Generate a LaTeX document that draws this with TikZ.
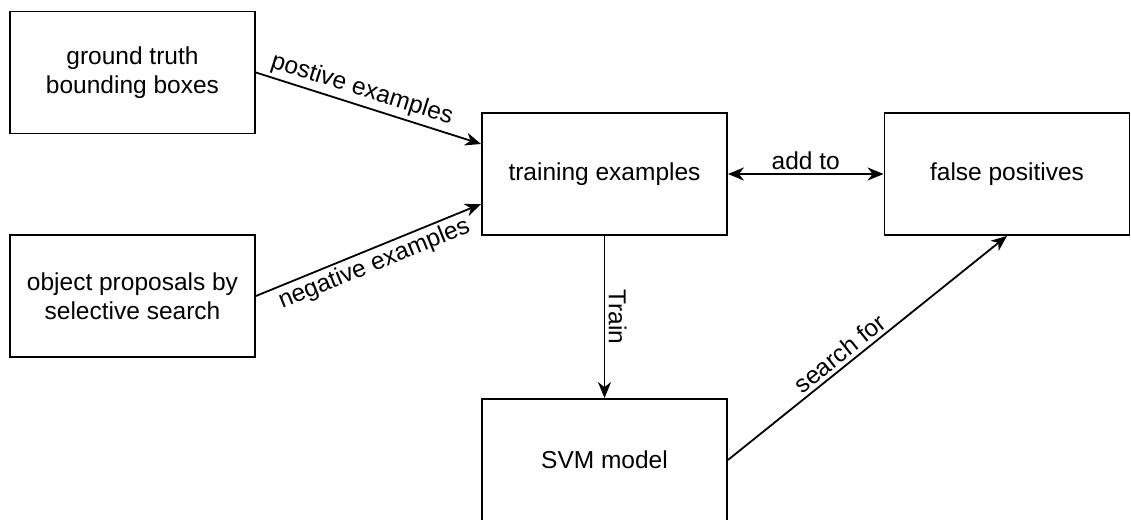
\documentclass[tikz,border=0pt]{standalone}
\usepackage{fontspec}
\setmainfont{Liberation Sans}
\usepackage{tikz}
\usetikzlibrary{arrows.meta,positioning}
\tikzstyle{line} = [draw, line width=1.8pt, -{Stealth[length=16pt,width=13pt,inset=5pt]}]
\tikzstyle{dline} = [draw, line width=1.8pt, {Stealth[length=16pt,width=13pt,inset=5pt]}-{Stealth[length=16pt,width=13pt,inset=5pt]}]
\tikzstyle{block} = [draw, line width=1.8pt, rectangle, minimum width=245pt, minimum height=122pt, align=center]
\tikzset{
    every node/.style={font=\fontsize{24.5}{29}\selectfont}
}

\begin{document}
\begin{tikzpicture}[x=1pt,y=-1pt]
            \useasboundingbox (0,0) rectangle (1131,519);

            % Draw the boxes
            \node[block] (gt) at (132.5,72.5) {ground truth\\bounding boxes};
            \node[block] (op) at (132.5,296) {object proposals by\\selective search};
            \node[block] (tr) at (604.5,174) {training examples};
            \node[block] (fp) at (1007,174) {false positives};
            \node[block] (svm) at (604.5,460) {SVM model};

            % Draw the arrows
            \path[line] (gt.east) -- node[pos=0.45, above, sloped] {postive examples} ([yshift=30pt]tr.west);
            \path[line] (op.east) -- node[midway, below, sloped] {negative examples} ([yshift=-30pt]tr.west);
            \path[dline] (tr.east) -- node[midway, above] {add to} (fp.west);
            \path[line] (tr.south) -- node[midway, above, sloped] {Train} (svm.north);
            \path[line] (svm.east) -- node[pos=0.43, above, sloped] {search for} (fp.south);
        \end{tikzpicture}
\end{document}
